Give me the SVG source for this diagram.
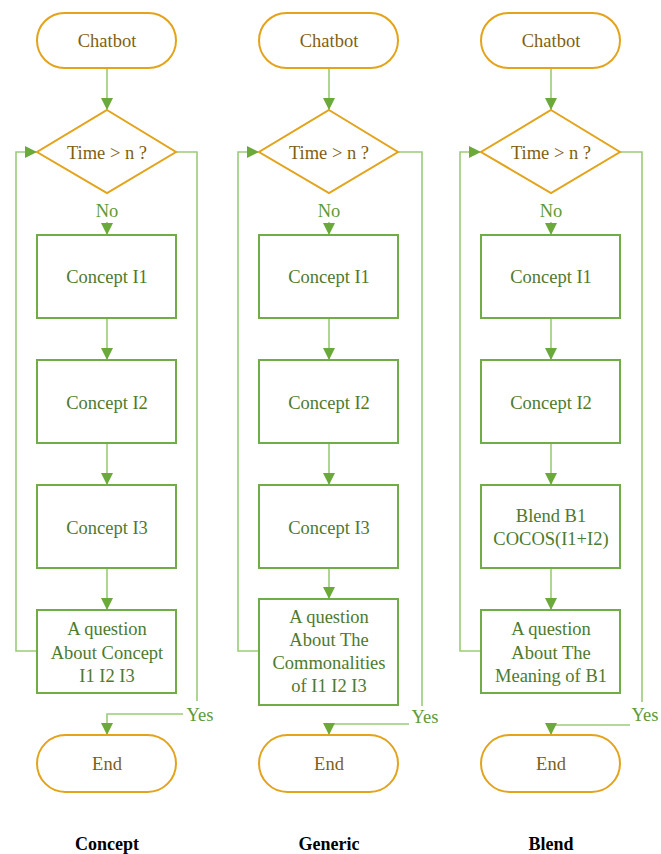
<svg xmlns="http://www.w3.org/2000/svg" width="661" height="854" viewBox="0 0 661 854" font-family="'Liberation Serif', 'DejaVu Serif', serif">
  <defs>
    <marker id="arrow" viewBox="0 0 12 12" refX="12" refY="6" markerWidth="12" markerHeight="12" markerUnits="userSpaceOnUse" orient="auto">
      <path d="M0,0 L12,6 L0,12 Z" fill="#6BAA3A"/>
    </marker>
    <style>
      .term { fill: #fff; stroke: #E3A31A; stroke-width: 2; }
      .dec { fill: #fff; stroke: #E3A31A; stroke-width: 2; }
      .box { fill: #fff; stroke: #70AD47; stroke-width: 2; }
      .conn { fill: none; stroke: #9CCB78; stroke-width: 1.6; }
      .arr { marker-end: url(#arrow); }
      text { font-family: 'Liberation Serif', 'Times New Roman', serif; font-size: 18.5px; text-anchor: middle; }
      .t1 { fill: #7F5F14; }
      .t2 { fill: #4E7A2E; }
      .lab { fill: #5E9A35; }
      .cap { font-weight: bold; font-size: 18px; fill: #000; }
    </style>
  </defs>

  <!-- connectors -->
  <g id="connectors">
    <!-- column 1 -->
    <line class="conn arr" x1="107" y1="69" x2="107" y2="110"/>
    <line class="conn arr" x1="107" y1="222" x2="107" y2="235"/>
    <line class="conn arr" x1="107" y1="318" x2="107" y2="360"/>
    <line class="conn arr" x1="107" y1="443" x2="107" y2="485"/>
    <line class="conn arr" x1="107" y1="568" x2="107" y2="610"/>
    <polyline class="conn arr" points="37,651 16,651 16,152 37,152"/>
    <polyline class="conn" points="176,152 197,152 197,701"/>
    <polyline class="conn arr" points="183,714 107,714 107,735"/>
    <!-- column 2 -->
    <line class="conn arr" x1="329" y1="69" x2="329" y2="110"/>
    <line class="conn arr" x1="329" y1="222" x2="329" y2="235"/>
    <line class="conn arr" x1="329" y1="318" x2="329" y2="360"/>
    <line class="conn arr" x1="329" y1="443" x2="329" y2="485"/>
    <line class="conn arr" x1="329" y1="568" x2="329" y2="599"/>
    <polyline class="conn arr" points="259,651 238,651 238,152 259,152"/>
    <polyline class="conn" points="398,152 422,152 422,706"/>
    <polyline class="conn arr" points="409,724 329,724 329,735"/>
    <!-- column 3 -->
    <line class="conn arr" x1="551" y1="69" x2="551" y2="110"/>
    <line class="conn arr" x1="551" y1="222" x2="551" y2="235"/>
    <line class="conn arr" x1="551" y1="318" x2="551" y2="360"/>
    <line class="conn arr" x1="551" y1="443" x2="551" y2="485"/>
    <line class="conn arr" x1="551" y1="568" x2="551" y2="610"/>
    <polyline class="conn arr" points="481,651 460,651 460,152 481,152"/>
    <polyline class="conn" points="620,152 642,152 642,702"/>
    <polyline class="conn arr" points="630,725 551,725 551,735"/>
  </g>

  <!-- edge labels -->
  <g id="edge-labels">
    <text class="lab" x="107" y="217">No</text>
    <text class="lab" x="329" y="217">No</text>
    <text class="lab" x="551" y="217">No</text>
    <text class="lab" x="200" y="721">Yes</text>
    <text class="lab" x="425" y="723">Yes</text>
    <text class="lab" x="645" y="721">Yes</text>
  </g>

  <!-- column 1: Concept -->
  <g id="c1-start"><rect class="term" x="37" y="13" width="139" height="55" rx="27.5"/><text class="t1" x="107" y="47">Chatbot</text></g>
  <g id="c1-check"><polygon class="dec" points="107,110 176,152 107,193 37,152"/><text class="t1" x="107" y="159">Time &gt; n ?</text></g>
  <g id="c1-i1"><rect class="box" x="37" y="235" width="139" height="83"/><text class="t2" x="107" y="283">Concept I1</text></g>
  <g id="c1-i2"><rect class="box" x="37" y="360" width="139" height="83"/><text class="t2" x="107" y="409">Concept I2</text></g>
  <g id="c1-i3"><rect class="box" x="37" y="485" width="139" height="83"/><text class="t2" x="107" y="534">Concept I3</text></g>
  <g id="c1-question"><rect class="box" x="37" y="610" width="139" height="83"/>
    <text class="t2" x="107" y="635">A question</text>
    <text class="t2" x="107" y="659">About Concept</text>
    <text class="t2" x="107" y="682">I1 I2 I3</text></g>
  <g id="c1-end"><rect class="term" x="37" y="735" width="139" height="57" rx="28.5"/><text class="t1" x="107" y="770">End</text></g>

  <!-- column 2: Generic -->
  <g id="c2-start"><rect class="term" x="259" y="13" width="139" height="55" rx="27.5"/><text class="t1" x="329" y="47">Chatbot</text></g>
  <g id="c2-check"><polygon class="dec" points="329,110 398,152 329,193 259,152"/><text class="t1" x="329" y="159">Time &gt; n ?</text></g>
  <g id="c2-i1"><rect class="box" x="259" y="235" width="139" height="83"/><text class="t2" x="329" y="283">Concept I1</text></g>
  <g id="c2-i2"><rect class="box" x="259" y="360" width="139" height="83"/><text class="t2" x="329" y="409">Concept I2</text></g>
  <g id="c2-i3"><rect class="box" x="259" y="485" width="139" height="83"/><text class="t2" x="329" y="534">Concept I3</text></g>
  <g id="c2-question"><rect class="box" x="259" y="599" width="139" height="106"/>
    <text class="t2" x="329" y="623">A question</text>
    <text class="t2" x="329" y="646">About The</text>
    <text class="t2" x="329" y="669">Commonalities</text>
    <text class="t2" x="329" y="692">of I1 I2 I3</text></g>
  <g id="c2-end"><rect class="term" x="259" y="735" width="139" height="57" rx="28.5"/><text class="t1" x="329" y="770">End</text></g>

  <!-- column 3: Blend -->
  <g id="c3-start"><rect class="term" x="481" y="13" width="139" height="55" rx="27.5"/><text class="t1" x="551" y="47">Chatbot</text></g>
  <g id="c3-check"><polygon class="dec" points="551,110 620,152 551,193 481,152"/><text class="t1" x="551" y="159">Time &gt; n ?</text></g>
  <g id="c3-i1"><rect class="box" x="481" y="235" width="139" height="83"/><text class="t2" x="551" y="283">Concept I1</text></g>
  <g id="c3-i2"><rect class="box" x="481" y="360" width="139" height="83"/><text class="t2" x="551" y="409">Concept I2</text></g>
  <g id="c3-blend"><rect class="box" x="481" y="485" width="139" height="83"/>
    <text class="t2" x="551" y="522">Blend B1</text>
    <text class="t2" x="551" y="545">COCOS(I1+I2)</text></g>
  <g id="c3-question"><rect class="box" x="481" y="610" width="139" height="83"/>
    <text class="t2" x="551" y="635">A question</text>
    <text class="t2" x="551" y="659">About The</text>
    <text class="t2" x="551" y="682">Meaning of B1</text></g>
  <g id="c3-end"><rect class="term" x="481" y="735" width="139" height="57" rx="28.5"/><text class="t1" x="551" y="770">End</text></g>

  <!-- column captions -->
  <g id="captions">
    <text class="cap" x="107" y="850">Concept</text>
    <text class="cap" x="329" y="850">Generic</text>
    <text class="cap" x="551" y="850">Blend</text>
  </g>
</svg>
